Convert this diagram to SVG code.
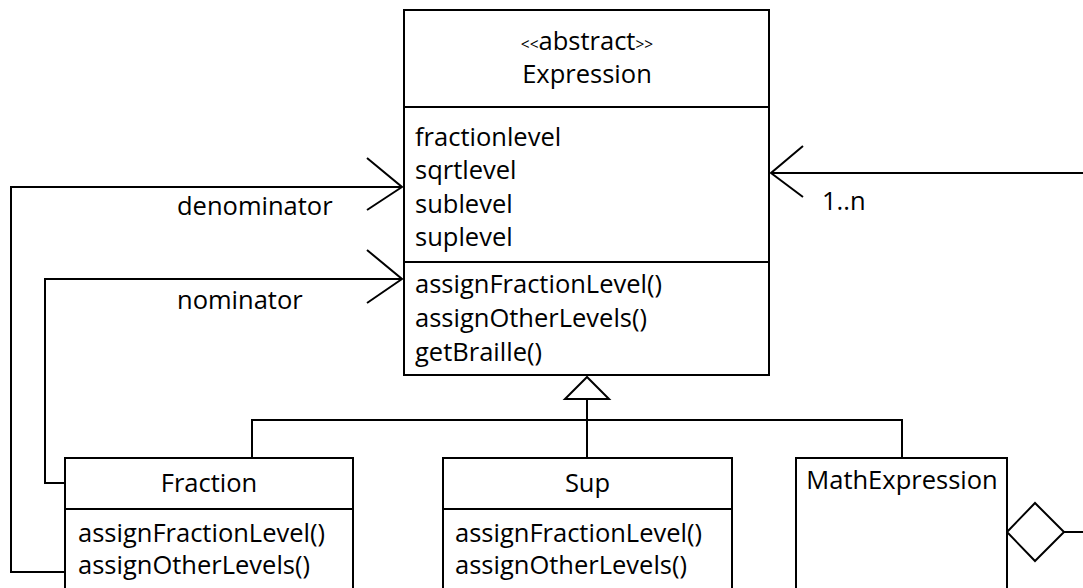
<svg xmlns="http://www.w3.org/2000/svg" width="1083" height="588" viewBox="0 0 1083 588">
<style>
.box{fill:#fff;stroke:#000;stroke-width:2}
.ln{fill:none;stroke:#000;stroke-width:2}
.t{font-family:"Open Sans","Noto Sans",sans-serif;font-size:25.5px;fill:#000}
.c{text-anchor:middle}
.st{font-size:15.5px}
</style>
<g id="connectors">
<polyline class="ln" points="65,572 11,572 11,187 402,187"/>
<polyline class="ln" points="367,158 402,187 367,210"/>
<polyline class="ln" points="65,483 45,483 45,279 402,279"/>
<polyline class="ln" points="367,250 402,279 367,303"/>
<line class="ln" x1="1083" y1="173" x2="771" y2="173"/>
<polyline class="ln" points="803,146 771,173 803,197"/>
<polyline class="ln" points="252,458 252,420 902,420 902,458"/>
<line class="ln" x1="587" y1="458" x2="587" y2="399"/>
<polygon class="box" points="587,377 565,399 609,399"/>
<polygon class="box" points="1007,532 1035,503 1064,532 1035,561"/>
<line class="ln" x1="1064" y1="532" x2="1083" y2="532"/>
<text class="t" x="177" y="215">denominator</text>
<text class="t" x="177" y="309">nominator</text>
<text class="t" x="822" y="210">1..n</text>
</g>
<g id="expression">
<rect class="box" x="404" y="10" width="365" height="365"/>
<line class="ln" x1="404" y1="107" x2="769" y2="107"/>
<line class="ln" x1="404" y1="262" x2="769" y2="262"/>
<text class="t c" x="587" y="50"><tspan class="st">&lt;&lt;</tspan>abstract<tspan class="st">&gt;&gt;</tspan></text>
<text class="t c" x="587" y="83">Expression</text>
<text class="t" x="415" y="146">fractionlevel</text>
<text class="t" x="415" y="179">sqrtlevel</text>
<text class="t" x="415" y="213">sublevel</text>
<text class="t" x="415" y="246">suplevel</text>
<text class="t" x="415" y="293">assignFractionLevel()</text>
<text class="t" x="415" y="327">assignOtherLevels()</text>
<text class="t" x="415" y="361">getBraille()</text>
</g>
<g id="fraction">
<rect class="box" x="65" y="458" width="288" height="140"/>
<line class="ln" x1="65" y1="509" x2="353" y2="509"/>
<text class="t c" x="209" y="492">Fraction</text>
<text class="t" x="78" y="542">assignFractionLevel()</text>
<text class="t" x="78" y="574">assignOtherLevels()</text>
</g>
<g id="sup">
<rect class="box" x="443" y="458" width="289" height="140"/>
<line class="ln" x1="443" y1="509" x2="732" y2="509"/>
<text class="t c" x="587.5" y="492">Sup</text>
<text class="t" x="455" y="542">assignFractionLevel()</text>
<text class="t" x="455" y="574">assignOtherLevels()</text>
</g>
<g id="mathexpression">
<rect class="box" x="796" y="458" width="211" height="140"/>
<text class="t c" x="902" y="489">MathExpression</text>
</g>
</svg>
